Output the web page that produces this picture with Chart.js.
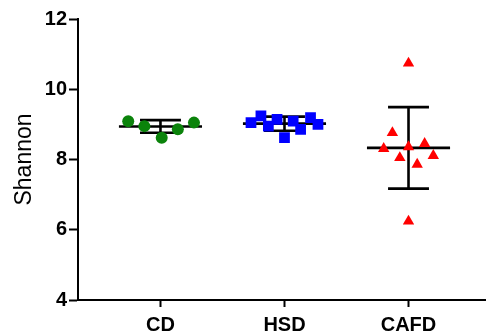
<!DOCTYPE html>
<html>
<head>
<meta charset="utf-8">
<script src="https://cdn.jsdelivr.net/npm/chart.js@4/dist/chart.umd.min.js"></script>
<style>
html,body{margin:0;padding:0;background:#fff;}
canvas{display:block;}
</style>
</head>
<body>
<canvas id="c" width="493" height="335"></canvas>
<script>
// ---- data ----
const categories = ['CD', 'HSD', 'CAFD'];
const yTicks = [4, 6, 8, 10, 12];

const cdValues   = [9.09, 8.95, 8.62, 8.86, 9.05];
const cdJitter   = [-0.26, -0.13, 0.01, 0.14, 0.27];

const hsdValues  = [9.05, 9.24, 8.95, 9.14, 8.62, 9.09, 8.86, 9.19, 9.00];
const hsdJitter  = [-0.27, -0.19, -0.13, -0.06, 0.00, 0.07, 0.13, 0.21, 0.27];

const cafdValues = [10.74, 8.76, 8.31, 8.36, 8.45, 8.05, 8.11, 7.86, 6.24];
const cafdJitter = [0.00, -0.13, -0.20, 0.00, 0.13, -0.07, 0.20, 0.07, 0.00];

const groupMeans = [8.94, 9.02, 8.33];
const groupSD    = [0.18, 0.20, 1.16];

// ---- build datasets ----
const FONT = "'Liberation Sans', Arial, sans-serif";
const meanHalf = 0.335, capHalf = 0.165;

function pts(vals, jit, pos) {
  return vals.map((v, i) => ({ x: pos + jit[i], y: v }));
}

const datasets = [
  { label: 'CD', data: pts(cdValues, cdJitter, 1), pointStyle: 'circle', pointRadius: 6,
    backgroundColor: '#0b830b', borderColor: '#0b830b', borderWidth: 0, showLine: false, order: 0 },
  { label: 'HSD', data: pts(hsdValues, hsdJitter, 2), pointStyle: 'rect', pointRadius: 7.6,
    backgroundColor: '#0000ff', borderColor: '#0000ff', borderWidth: 0, showLine: false, order: 0 },
  { label: 'CAFD', data: pts(cafdValues, cafdJitter, 3), pointStyle: 'triangle', pointRadius: 6.6,
    backgroundColor: '#ff0000', borderColor: '#ff0000', borderWidth: 0, showLine: false, order: 0 }
];

function seg(a, b) {
  return { data: [a, b], type: 'line', showLine: true, borderColor: '#000', borderWidth: 2.6,
           pointRadius: 0, borderCapStyle: 'butt', fill: false, clip: false, order: 5 };
}
groupMeans.forEach((m, i) => {
  const c = i + 1, s = groupSD[i];
  datasets.push(seg({ x: c - meanHalf, y: m }, { x: c + meanHalf, y: m }));
  datasets.push(seg({ x: c, y: m - s }, { x: c, y: m + s }));
  datasets.push(seg({ x: c - capHalf, y: m + s }, { x: c + capHalf, y: m + s }));
  datasets.push(seg({ x: c - capHalf, y: m - s }, { x: c + capHalf, y: m - s }));
});

new Chart(document.getElementById('c'), {
  type: 'scatter',
  data: { datasets },
  options: {
    responsive: false,
    animation: false,
    events: [],
    layout: { padding: { top: 19, right: 0, left: 0, bottom: 0 } },
    plugins: { legend: { display: false }, tooltip: { enabled: false } },
    elements: { point: { hoverRadius: 0 } },
    scales: {
      x: {
        type: 'linear',
        min: 0.335,
        max: 3.62,
        afterBuildTicks: (s) => { s.ticks = categories.map((_, i) => ({ value: i + 1 })); },
        afterFit: (s) => { s.height = 35; },
        border: { display: true, color: '#000', width: 2 },
        grid: { display: true, drawOnChartArea: false, drawTicks: true, tickLength: 7, tickColor: '#000', tickWidth: 2 },
        ticks: {
          autoSkip: false, maxRotation: 0, padding: 6,
          color: '#000',
          font: { family: FONT, size: 20, weight: 'bold' },
          callback: (v) => categories[v - 1] || ''
        }
      },
      y: {
        min: 4,
        max: 12,
        afterBuildTicks: (s) => { s.ticks = yTicks.map(v => ({ value: v })); },
        afterFit: (s) => { s.width = 78; },
        border: { display: true, color: '#000', width: 2 },
        grid: { display: true, drawOnChartArea: false, drawTicks: true, tickLength: 9, tickColor: '#000', tickWidth: 2 },
        ticks: {
          padding: 2, color: '#000',
          font: { family: FONT, size: 20, weight: 'bold' }
        },
        title: {
          display: true, text: 'Shannon', color: '#000',
          font: { family: FONT, size: 23, weight: 'normal' },
          padding: { top: 11, bottom: 0 }
        }
      }
    }
  }
});
</script>
</body>
</html>
